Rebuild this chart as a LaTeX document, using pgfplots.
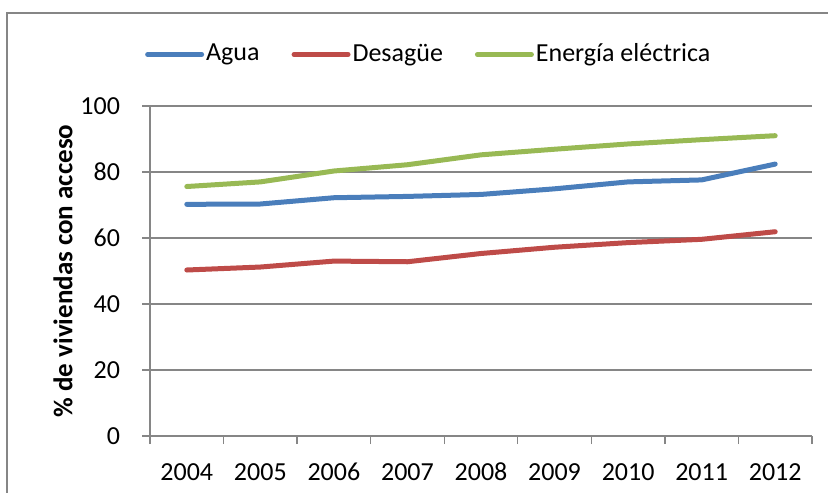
\documentclass[border=0pt]{standalone}
\usepackage{fontspec}
\setmainfont{Carlito}
\usepackage{pgfplots}
\pgfplotsset{compat=1.18}

\definecolor{agua}{HTML}{4A7EBB}
\definecolor{desague}{HTML}{BE4B48}
\definecolor{energia}{HTML}{98B954}
\definecolor{axisgray}{HTML}{868686}

\begin{document}
\fontsize{13}{15}\selectfont
\begin{tikzpicture}
% outer chart frame (cut off at right and bottom)
\draw[axisgray, line width=0.8pt] (3.5pt,-5pt) -- (3.5pt,239.5pt) -- (420pt,239.5pt);
\begin{axis}[
    at={(75pt,28pt)}, anchor=south west,
    scale only axis,
    width=331pt, height=165pt,
    xmin=-0.5, xmax=8.5,
    ymin=0, ymax=100,
    xtick={-0.5,0.5,...,8.5},
    x tick label as interval,
    xticklabels={2004,2005,2006,2007,2008,2009,2010,2011,2012},
    ytick={0,20,...,100},
    axis lines*=left,
    axis line style={axisgray, line width=0.7pt, -},
    ymajorgrids,
    grid style={axisgray, line width=0.7pt},
    tick align=outside,
    major tick length=4pt,
    tick style={axisgray, line width=0.7pt},
    /pgf/number format/assume math mode=true,
    yticklabel style={xshift=-6.5pt},
    xticklabel style={text height=8.5pt, text depth=0pt, yshift=-5pt},
    ylabel={\fontsize{13.5}{16}\selectfont\bfseries\% de viviendas con acceso},
    ylabel style={at={(axis description cs:-0.1314,0.5)}, anchor=center, rotate=0},
    legend style={at={(axis description cs:-0.017,1.156)}, anchor=west,
        draw=none, fill=none, legend columns=-1, font=\fontsize{13}{15}\selectfont,
        /tikz/every even column/.append style={column sep=15pt},
        nodes={inner sep=1pt}},
    legend image code/.code={\draw[#1, line width=2.5pt, line cap=round] (0pt,0pt) -- (27pt,0pt);},
    every axis plot/.append style={line width=2.5pt, line cap=round, line join=round, mark=none},
]
\addplot[agua] coordinates {(0,70.2) (1,70.3) (2,72.2) (3,72.6) (4,73.2) (5,74.9) (6,77.0) (7,77.6) (8,82.4)};
\addplot[desague] coordinates {(0,50.3) (1,51.2) (2,53.0) (3,52.8) (4,55.3) (5,57.2) (6,58.6) (7,59.6) (8,61.9)};
\addplot[energia] coordinates {(0,75.6) (1,77.0) (2,80.3) (3,82.2) (4,85.2) (5,86.9) (6,88.5) (7,89.8) (8,91.0)};
\legend{Agua, Desagüe, Energía eléctrica}
\end{axis}
\pgfresetboundingbox
\useasboundingbox (0,0) rectangle (414pt,246pt);
\end{tikzpicture}
\end{document}
